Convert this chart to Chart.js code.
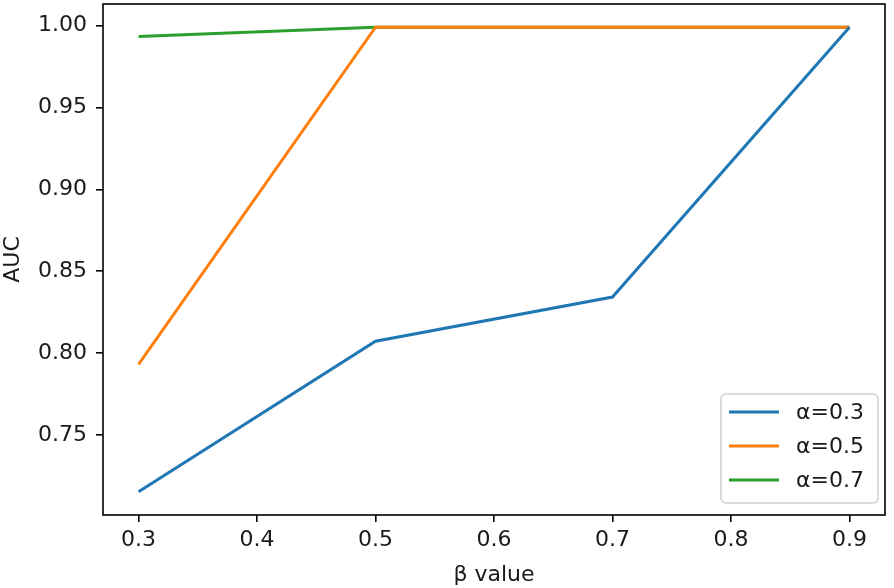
<!DOCTYPE html>
<html>
<head>
<meta charset="utf-8">
<script src="https://cdn.jsdelivr.net/npm/chart.js@4/dist/chart.umd.min.js"></script>
<style>
  html, body { margin: 0; padding: 0; background: #fff; }
  #wrap { width: 894px; height: 588px; }
</style>
</head>
<body>
<div id="wrap"><canvas id="c" width="894" height="588"></canvas></div>
<script>
const betaValues = [0.3, 0.5, 0.7, 0.9];
const seriesLabels = ['α=0.3', 'α=0.5', 'α=0.7'];
const aucAlpha03 = [0.7154, 0.8073, 0.8343, 0.999];
const aucAlpha05 = [0.7931, 0.999, 0.999, 0.999];
const aucAlpha07 = [0.9933, 0.999, 0.999, 0.999];
const xTicks = [0.3, 0.4, 0.5, 0.6, 0.7, 0.8, 0.9];
const yTicks = [0.75, 0.80, 0.85, 0.90, 0.95, 1.00];
const xTitle = 'β value';
const yTitle = 'AUC';

const colors = ['#1f77b4', '#ff7f0e', '#2ca02c'];
const FONT = 'DejaVu Sans';
const allSeries = [aucAlpha03, aucAlpha05, aucAlpha07];

const datasets = allSeries.map((vals, i) => ({
  label: seriesLabels[i],
  data: betaValues.map((b, j) => ({ x: b, y: vals[j] })),
  borderColor: colors[i],
  backgroundColor: colors[i],
  borderWidth: 3,
  pointRadius: 0,
  tension: 0,
  fill: false
}));

const framePlugin = {
  id: 'frame',
  afterDatasetsDraw(chart) {
    const { ctx, chartArea: a } = chart;
    ctx.save();
    ctx.strokeStyle = '#000';
    ctx.lineWidth = 1.6;
    ctx.strokeRect(a.left, a.top, a.right - a.left, a.bottom - a.top);
    ctx.restore();
  },
  afterDraw(chart) {
    const { ctx, chartArea: a } = chart;
    const ds = chart.data.datasets;
    const w = 157, rowH = 34, h = 109;
    const x0 = a.right - 7 - w, y0 = a.bottom - 12 - h;
    ctx.save();
    ctx.beginPath();
    if (ctx.roundRect) ctx.roundRect(x0, y0, w, h, 5); else ctx.rect(x0, y0, w, h);
    ctx.fillStyle = 'rgba(255,255,255,0.8)';
    ctx.fill();
    ctx.strokeStyle = '#d0d0d0';
    ctx.lineWidth = 1.5;
    ctx.stroke();
    ctx.font = '22px "' + FONT + '"';
    ctx.textBaseline = 'middle';
    ctx.textAlign = 'left';
    ds.forEach((d, i) => {
      const cy = y0 + 18 + i * rowH;
      ctx.strokeStyle = d.borderColor;
      ctx.lineWidth = 3;
      ctx.beginPath();
      ctx.moveTo(x0 + 8, cy);
      ctx.lineTo(x0 + 58, cy);
      ctx.stroke();
      ctx.fillStyle = '#1a1a1a';
      ctx.fillText(d.label, x0 + 75, cy + 1);
    });
    ctx.restore();
  }
};

new Chart(document.getElementById('c'), {
  type: 'line',
  data: { datasets },
  plugins: [framePlugin],
  options: {
    responsive: false,
    animation: false,
    events: [],
    layout: { padding: { top: 4, right: 9, left: 0, bottom: 0 } },
    plugins: { legend: { display: false }, tooltip: { enabled: false } },
    scales: {
      x: {
        type: 'linear',
        min: 0.27,
        max: 0.93,
        afterBuildTicks(scale) { scale.ticks = xTicks.map(v => ({ value: v })); },
        afterFit(scale) { scale.height = 73; scale.paddingLeft = 0; scale.paddingRight = 0; },
        ticks: {
          color: '#1a1a1a',
          font: { family: FONT, size: 22 },
          padding: 5,
          maxRotation: 0,
          autoSkip: false,
          callback: v => Number(v).toFixed(1)
        },
        grid: { drawOnChartArea: false, drawTicks: true, tickLength: 7, color: '#000', lineWidth: 1.6 },
        border: { display: false },
        title: { display: true, text: xTitle, color: '#1a1a1a', font: { family: FONT, size: 22 }, padding: { top: 0, bottom: 0 } }
      },
      y: {
        type: 'linear',
        min: 0.7012,
        max: 1.0132,
        afterBuildTicks(scale) { scale.ticks = yTicks.map(v => ({ value: v })); },
        afterFit(scale) { scale.width = 103; scale.paddingTop = 0; scale.paddingBottom = 0; },
        ticks: {
          color: '#1a1a1a',
          font: { family: FONT, size: 22 },
          padding: 9,
          autoSkip: false,
          callback: v => Number(v).toFixed(2)
        },
        grid: { drawOnChartArea: false, drawTicks: true, tickLength: 7, color: '#000', lineWidth: 1.6 },
        border: { display: false },
        title: { display: true, text: yTitle, color: '#1a1a1a', font: { family: FONT, size: 22 }, padding: { top: 0, bottom: 0 } }
      }
    }
  }
});
</script>
</body>
</html>
